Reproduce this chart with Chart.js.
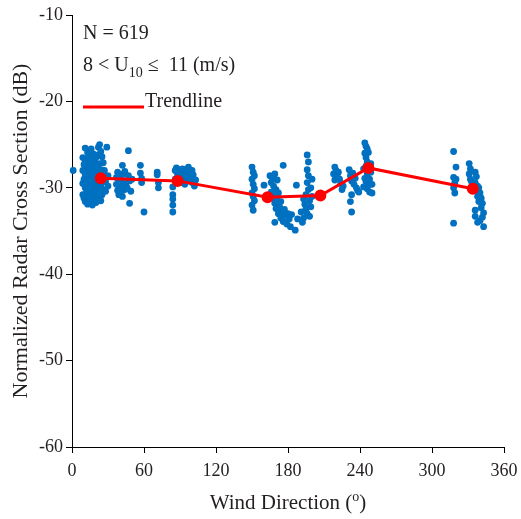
<!DOCTYPE html>
<html>
<head>
<meta charset="utf-8">
<script src="https://cdn.jsdelivr.net/npm/chart.js@4.4.1/dist/chart.umd.min.js"></script>
<style>
  body { margin: 0; background: #fff; }
  canvas { display: block; }
</style>
</head>
<body>
<canvas id="nrcsChart" width="521" height="519"></canvas>
<script>
// scatter: wind direction (deg) and NRCS (dB), grouped by cluster
const windDir = [
    1,
    9, 9, 9, 9, 10, 10, 10, 11, 11, 11, 11, 11, 12, 12, 12, 13, 13, 13, 13, 13,
    14, 14, 14, 14, 15, 15, 15, 15, 16, 16, 16, 16, 17, 17, 17, 17, 18, 18, 18, 18,
    19, 19, 19, 20, 20, 20, 20, 21, 21, 21, 22, 22, 22, 22, 23, 23, 23, 23,
    24, 24, 24, 24, 25, 25, 25, 26, 26, 27, 27, 28, 28, 29, 30, 30,
    37, 37, 38, 38, 39, 39, 40, 40, 41, 41, 42, 42, 42, 43, 43, 44, 44, 45, 46, 47, 47, 48, 48, 49, 50,
    57, 57, 58, 58, 60, 71, 71, 72, 72,
    84, 84, 84, 84, 84, 86, 86, 87, 88, 89, 90, 91, 92, 93, 94, 95, 96, 97, 98, 99, 100, 101, 102, 103,
    90, 94, 97, 100,
    150, 151, 152, 150, 151, 152, 150, 151, 152, 150, 151,
    160, 165, 166, 166, 167, 167, 168, 168, 169, 169, 169, 170, 170, 171, 171, 172, 172, 173, 174, 174,
    175, 176, 176, 177, 178, 179, 180, 181, 182, 183, 186, 187, 188,
    196, 197, 196, 197, 196, 197, 195, 193, 194, 195, 196, 193, 198, 199, 200, 198, 191, 192, 199, 200,
    219, 220, 221, 222, 223, 224, 225, 219, 226, 218,
    231, 232, 233, 234, 235, 236, 237, 238, 233, 232, 233, 239,
    244, 245, 246, 244, 245, 247, 246, 245, 247, 246, 244, 245, 247, 246, 248, 248, 249, 249, 250, 243, 243, 250,
    318, 320, 318, 319, 318, 319, 320, 318,
    331, 332, 331, 332, 333, 336, 337, 336, 338, 337, 339, 340, 338, 341, 339, 342, 341, 343, 336, 342, 336, 340, 343, 338
];
const nrcs = [
    -28.0,
    -26.5, -28.0, -29.5, -30.8, -27.3, -29.0, -31.2, -25.4, -26.8, -28.4, -30.0, -31.6, -27.8, -29.3, -30.6, -25.9, -27.1, -28.7, -30.2, -31.9,
    -26.4, -28.0, -29.6, -31.0, -27.4, -28.9, -30.4, -31.5, -25.5, -26.8, -28.3, -29.8, -27.7, -29.2, -30.8, -32.0, -26.1, -28.5, -30.0, -31.3,
    -27.0, -29.5, -30.6, -26.5, -28.1, -29.9, -31.7, -27.5, -28.8, -30.3, -25.3, -26.2, -29.4, -31.0, -25.0, -27.2, -28.5, -30.1,
    -25.8, -27.9, -29.7, -31.5, -26.4, -28.3, -30.8, -27.1, -29.0, -28.0, -30.2, -29.3, -30.4, -25.3, -28.6, -29.8,
    -28.8, -29.6, -30.3, -28.2, -29.0, -30.8, -28.6, -29.9, -28.9, -30.5, -27.4, -29.3, -31.0, -28.4, -29.8, -30.2, -28.1, -29.5, -30.0, -25.7, -28.6, -29.2, -31.8, -30.4, -29.0,
    -27.4, -28.3, -28.9, -29.4, -32.8, -28.2, -28.5, -29.4, -30.0,
    -29.9, -30.8, -31.3, -32.0, -32.8, -28.0, -29.0, -27.7, -28.5, -27.9, -28.8, -28.2, -27.8, -29.0, -28.4, -27.9, -28.6, -29.2, -28.1, -28.8, -29.4, -28.5, -29.8, -29.1,
    -29.4, -29.6, -27.6, -28.0,
    -27.6, -28.2, -28.6, -29.0, -29.6, -30.1, -30.6, -31.0, -31.5, -32.0, -32.6,
    -29.7, -28.6, -29.4, -30.5, -28.9, -31.2, -29.8, -30.9, -28.4, -31.8, -34.0, -30.2, -32.4, -29.1, -31.5, -30.6, -33.0, -32.2, -31.6, -33.5,
    -32.8, -27.4, -33.9, -32.5, -33.2, -34.2, -33.0, -33.6, -34.5, -33.1, -34.9, -29.7, -33.6,
    -26.2, -27.0, -27.9, -28.6, -29.4, -30.2, -30.8, -31.3, -31.9, -32.4, -33.0, -33.5, -31.5, -32.2, -31.0, -33.3, -32.8, -34.0, -30.0, -29.0,
    -27.6, -28.0, -28.5, -28.2, -29.0, -29.5, -30.2, -29.1, -29.8, -28.4,
    -27.9, -28.6, -29.2, -28.3, -29.6, -28.9, -30.0, -30.3, -30.8, -31.6, -32.8, -30.5,
    -24.8, -25.2, -25.5, -26.0, -26.5, -25.9, -27.0, -27.5, -28.0, -28.4, -28.9, -29.3, -29.7, -30.1, -29.0, -30.5, -28.2, -27.2, -29.6, -27.8, -29.9, -30.6,
    -25.8, -27.6, -28.8, -29.4, -30.0, -30.6, -29.0, -34.1,
    -27.2, -27.8, -28.4, -29.0, -29.3, -28.2, -28.7, -29.4, -29.8, -30.3, -30.0, -30.6, -31.0, -31.2, -31.6, -31.8, -32.3, -32.9, -32.6, -33.4, -33.3, -33.8, -34.5, -34.0
];

// trendline (bin means)
const trendDir = [24, 88, 163, 207, 247, 334];
const trendNrcs = [-28.9, -29.2, -31.1, -30.9, -27.7, -30.1];

const xTicks = [0, 60, 120, 180, 240, 300, 360];
const yTicks = [-60, -50, -40, -30, -20, -10];

const textColor = "#231f20";
const serif = "'Liberation Serif', 'Times New Roman', serif";

// annotations + x title (need sub/superscripts, so drawn by hand)
const annotationPlugin = {
    id: "annotations",
    afterDraw(chart) {
        const ctx = chart.ctx;
        ctx.save();
        ctx.fillStyle = textColor;
        ctx.textBaseline = "alphabetic";
        ctx.textAlign = "left";

        ctx.font = "20px " + serif;
        ctx.fillText("N = 619", 83, 39);

        let x = 83;
        ctx.fillText("8 < U", x, 71);
        x += ctx.measureText("8 < U").width;
        ctx.font = "14px " + serif;
        ctx.fillText("10", x, 77);
        x += ctx.measureText("10").width;
        ctx.font = "20px " + serif;
        ctx.fillText(" \u2264  11 (m/s)", x, 71);

        ctx.strokeStyle = "#ff0000";
        ctx.lineWidth = 3;
        ctx.beginPath();
        ctx.moveTo(83, 107);
        ctx.lineTo(144, 107);
        ctx.stroke();
        ctx.fillText("Trendline", 145, 107);

        // x axis title with superscript degree
        const area = chart.chartArea;
        const big = "21px " + serif, small = "14px " + serif;
        ctx.font = big;
        const w1 = ctx.measureText("Wind Direction (").width;
        const w3 = ctx.measureText(")").width;
        ctx.font = small;
        const w2 = ctx.measureText("o").width;
        let tx = (area.left + area.right) / 2 - (w1 + w2 + w3) / 2;
        const base = 509;
        ctx.font = big;
        ctx.fillText("Wind Direction (", tx, base);
        tx += w1;
        ctx.font = small;
        ctx.fillText("o", tx, base - 8);
        tx += w2;
        ctx.font = big;
        ctx.fillText(")", tx, base);
        ctx.restore();
    }
};

new Chart(document.getElementById("nrcsChart"), {
    type: "scatter",
    data: {
        datasets: [
            {
                label: "Trendline",
                data: trendDir.map((d, i) => ({ x: d, y: trendNrcs[i] })),
                showLine: true,
                borderColor: "#ff0000",
                backgroundColor: "#ff0000",
                borderWidth: 3,
                pointRadius: 4.5,
                pointHoverRadius: 4.5
            },
            {
                label: "NRCS",
                data: windDir.map((d, i) => ({ x: d, y: nrcs[i] })),
                backgroundColor: "#0070c0",
                borderWidth: 0,
                pointRadius: 3.4,
                clip: 6
            }
        ]
    },
    options: {
        responsive: false,
        animation: false,
        devicePixelRatio: 1,
        layout: { padding: { top: 15, right: 17, left: 0, bottom: 0 } },
        plugins: {
            legend: { display: false },
            tooltip: { enabled: false }
        },
        scales: {
            x: {
                type: "linear",
                min: 0,
                max: 360,
                afterBuildTicks: (scale) => { scale.ticks = xTicks.map(v => ({ value: v })); },
                afterFit: (scale) => {
                    scale.height = 72;
                    scale.paddingLeft = 0;
                    scale.paddingRight = 0;
                },
                border: { display: true, color: "#000", width: 1 },
                grid: { drawOnChartArea: false, drawTicks: true, tickLength: 6, color: "#000" },
                ticks: { color: textColor, padding: 7, maxRotation: 0, font: { family: serif, size: 18 } }
            },
            y: {
                type: "linear",
                min: -60,
                max: -10,
                afterBuildTicks: (scale) => { scale.ticks = yTicks.map(v => ({ value: v })); },
                afterFit: (scale) => {
                    scale.width = 72;
                    scale.paddingTop = 0;
                    scale.paddingBottom = 0;
                },
                border: { display: true, color: "#000", width: 1 },
                grid: { drawOnChartArea: false, drawTicks: true, tickLength: 6, color: "#000" },
                ticks: { color: textColor, padding: 3, font: { family: serif, size: 18 } },
                title: {
                    display: true,
                    text: "Normalized Radar Cross Section (dB)",
                    color: textColor,
                    padding: { top: 8, bottom: 0 },
                    font: { family: serif, size: 22 }
                }
            }
        }
    },
    plugins: [annotationPlugin]
});
</script>
</body>
</html>
